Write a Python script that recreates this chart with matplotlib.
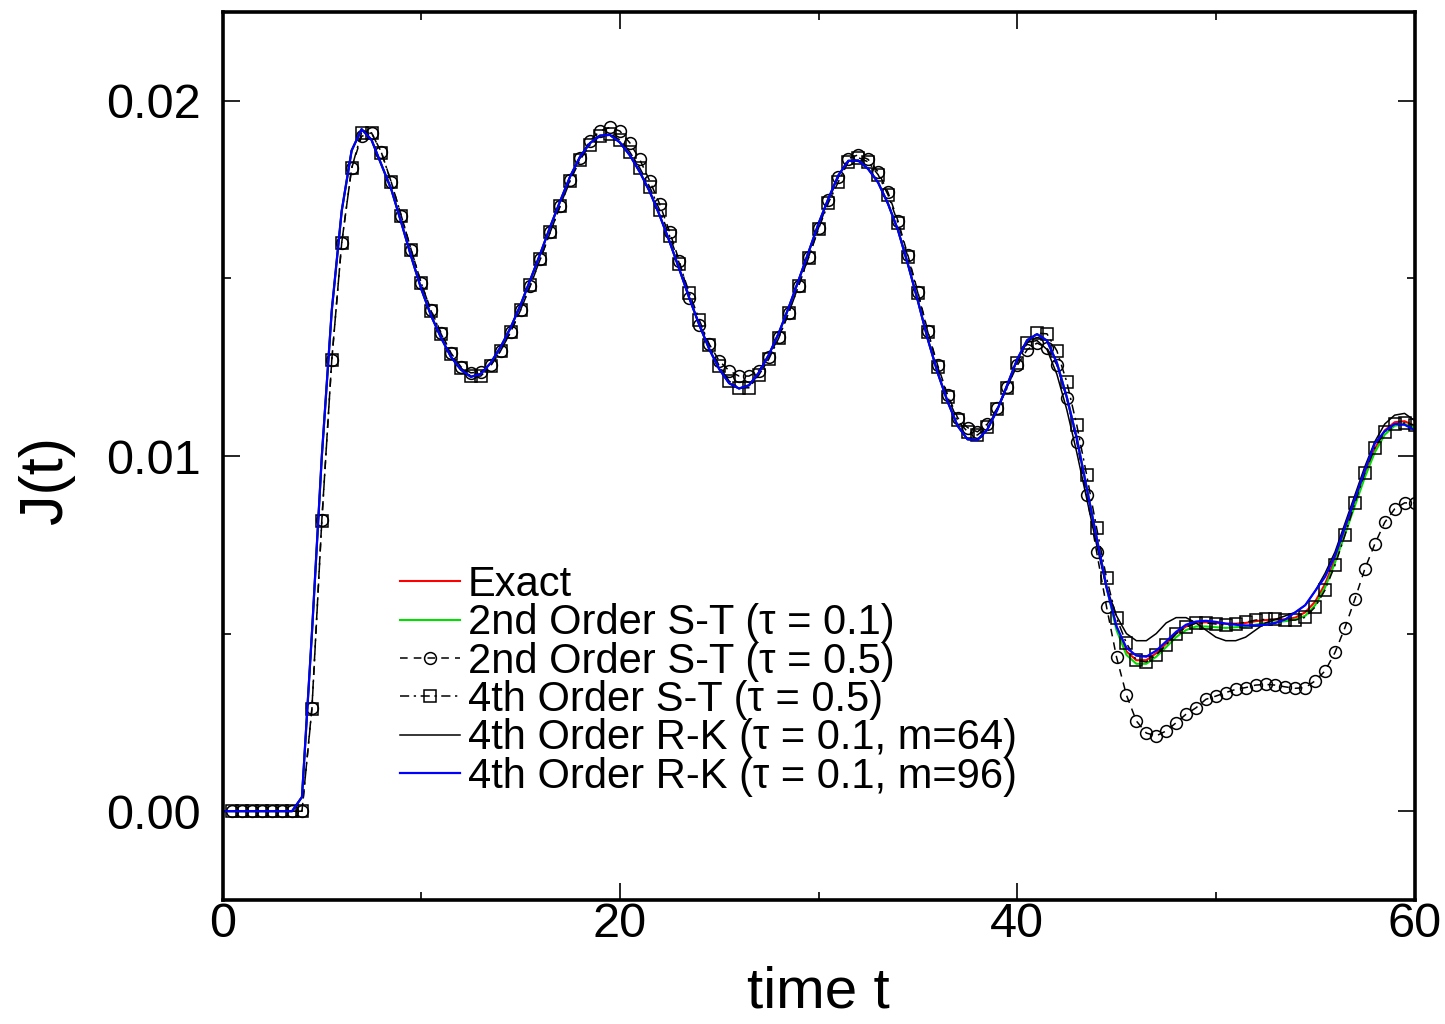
import numpy as np
import matplotlib
matplotlib.use("Agg")
import matplotlib.pyplot as plt
from matplotlib.ticker import MultipleLocator, FormatStrFormatter

plt.rcParams['font.family'] = ['Liberation Sans', 'DejaVu Sans']

# time grids: smooth curves sampled every 0.5 from t=0, marker series from t=0.5
t_line = np.arange(0.0, 60.01, 0.5)
t_mark = np.arange(0.5, 60.01, 0.5)

# RK m=96 (blue)
J_rk96 = [
    0, 0, 0, 0, 0, 0, 0, 0, 0.0004, 0.0050,
    0.0100, 0.0141, 0.0169, 0.0186, 0.0192, 0.0189, 0.0182, 0.0175, 0.01657, 0.01561,
    0.01471, 0.01395, 0.01333, 0.01279, 0.01243, 0.01223, 0.01231, 0.01262, 0.01307, 0.01361,
    0.01425, 0.01497, 0.0157, 0.01646, 0.01718, 0.01787, 0.01843, 0.01881, 0.01902, 0.01904,
    0.01883, 0.01847, 0.018, 0.01745, 0.01678, 0.01604, 0.01525, 0.01444, 0.01369, 0.01301,
    0.01245, 0.01205, 0.0119, 0.01199, 0.01235, 0.01285, 0.01346, 0.01418, 0.01495, 0.01574,
    0.01654, 0.01725, 0.0179, 0.01831, 0.01832, 0.01808, 0.0177, 0.0171, 0.01636, 0.0154,
    0.01437, 0.01329, 0.01234, 0.01153, 0.01085, 0.01047, 0.01045, 0.01075, 0.0113, 0.012,
    0.01272, 0.01326, 0.01343, 0.01325, 0.01262, 0.01165, 0.0105, 0.0091, 0.0077, 0.0063,
    0.0052, 0.0046, 0.00438, 0.00435, 0.00452, 0.00478, 0.00505, 0.00525, 0.00534, 0.00536,
    0.00533, 0.00528, 0.00525, 0.00523, 0.00523, 0.00525, 0.0053, 0.0054, 0.0056, 0.0058,
    0.0062, 0.0066, 0.0072, 0.0080, 0.0088, 0.0096, 0.01035, 0.0107, 0.0109, 0.01088,
    0.01073,
]

# exact (red)
J_exact = [
    0, 0, 0, 0, 0, 0, 0, 0, 0.0004, 0.0050,
    0.0100, 0.0141, 0.0169, 0.0186, 0.0192, 0.0189, 0.0182, 0.0175, 0.01657, 0.01561,
    0.01471, 0.01395, 0.01333, 0.01279, 0.01243, 0.01223, 0.01231, 0.01262, 0.01307, 0.01361,
    0.01425, 0.01497, 0.0157, 0.01646, 0.01718, 0.01787, 0.01843, 0.01881, 0.01902, 0.01904,
    0.01883, 0.01847, 0.018, 0.01745, 0.01678, 0.01604, 0.01525, 0.01444, 0.01369, 0.01301,
    0.01245, 0.01205, 0.0119, 0.01199, 0.01235, 0.01285, 0.01346, 0.01418, 0.01495, 0.01574,
    0.01654, 0.01725, 0.0179, 0.01831, 0.01832, 0.01808, 0.0177, 0.0171, 0.01636, 0.0154,
    0.01437, 0.01329, 0.01234, 0.01153, 0.01085, 0.01047, 0.01045, 0.01075, 0.0113, 0.012,
    0.01272, 0.01326, 0.01343, 0.01325, 0.01262, 0.01165, 0.0105, 0.0091, 0.0077, 0.0063,
    0.0052, 0.0045, 0.00425, 0.00425, 0.00445, 0.00472, 0.005, 0.0052, 0.0053, 0.00532,
    0.0053, 0.00528, 0.00528, 0.0053, 0.00535, 0.00538, 0.0054, 0.0054, 0.00545, 0.0056,
    0.0059, 0.0064, 0.0071, 0.0079, 0.0087, 0.0095, 0.0102, 0.01072, 0.01095, 0.01098,
    0.01085,
]

# 2nd order S-T, tau = 0.1 (green)
J_st2_01 = [
    0, 0, 0, 0, 0, 0, 0, 0, 0.0004, 0.0050,
    0.0100, 0.0141, 0.0169, 0.0186, 0.0192, 0.0189, 0.0182, 0.0175, 0.01657, 0.01561,
    0.01471, 0.01395, 0.01333, 0.01279, 0.01243, 0.01223, 0.01231, 0.01262, 0.01307, 0.01361,
    0.01425, 0.01497, 0.0157, 0.01646, 0.01718, 0.01787, 0.01843, 0.01881, 0.01902, 0.01904,
    0.01883, 0.01847, 0.018, 0.01745, 0.01678, 0.01604, 0.01525, 0.01444, 0.01369, 0.01301,
    0.01245, 0.01205, 0.0119, 0.01199, 0.01235, 0.01285, 0.01346, 0.01418, 0.01495, 0.01574,
    0.01654, 0.01725, 0.0179, 0.01831, 0.01832, 0.01808, 0.0177, 0.0171, 0.01636, 0.0154,
    0.01437, 0.01329, 0.01234, 0.01153, 0.01085, 0.01047, 0.01045, 0.01075, 0.0113, 0.012,
    0.01272, 0.01326, 0.01343, 0.01325, 0.01262, 0.01165, 0.0105, 0.0091, 0.0077, 0.0063,
    0.0051, 0.0044, 0.00415, 0.00415, 0.00435, 0.00462, 0.0049, 0.0051, 0.0052, 0.0052,
    0.00518, 0.00516, 0.00518, 0.0052, 0.00525, 0.0053, 0.00532, 0.00535, 0.0054, 0.0055,
    0.0058, 0.0063, 0.0070, 0.0078, 0.0086, 0.0094, 0.0101, 0.0106, 0.01085, 0.0109,
    0.0108,
]

# RK m=64 (thin black)
J_rk64 = [
    0, 0, 0, 0, 0, 0, 0, 0, 0.0004, 0.0050,
    0.0100, 0.0141, 0.0169, 0.0186, 0.0192, 0.0189, 0.0182, 0.0175, 0.01657, 0.01561,
    0.01471, 0.01395, 0.01333, 0.01279, 0.01243, 0.01223, 0.01231, 0.01262, 0.01307, 0.01361,
    0.01425, 0.01497, 0.0157, 0.01646, 0.01718, 0.01787, 0.01843, 0.01881, 0.01902, 0.01904,
    0.01883, 0.01847, 0.018, 0.01745, 0.01678, 0.01604, 0.01525, 0.01444, 0.01369, 0.01301,
    0.01245, 0.01205, 0.0119, 0.01199, 0.01235, 0.01285, 0.01346, 0.01418, 0.01495, 0.01574,
    0.01654, 0.01725, 0.0179, 0.01831, 0.01832, 0.01808, 0.0177, 0.0171, 0.01636, 0.0154,
    0.01437, 0.01329, 0.01234, 0.01153, 0.01085, 0.01047, 0.01045, 0.01075, 0.0113, 0.012,
    0.01272, 0.0132, 0.01325, 0.0130, 0.0123, 0.0113, 0.0101, 0.0088, 0.0075, 0.0063,
    0.0055, 0.0050, 0.0048, 0.0048, 0.0050, 0.0053, 0.00545, 0.00545, 0.0053, 0.0051,
    0.0049, 0.0048, 0.0048, 0.0049, 0.0051, 0.0053, 0.0054, 0.0055, 0.0056, 0.0058,
    0.0062, 0.0067, 0.0073, 0.0081, 0.0089, 0.0097, 0.0104, 0.0109, 0.01115, 0.0112,
    0.0110,
]

# 2nd order S-T, tau = 0.5 (circles)
J_st2_05 = [
    0, 0, 0, 0, 0, 0, 0, 0, 0.0029, 0.0082,
    0.0127, 0.0160, 0.0181, 0.0190, 0.0191, 0.01855, 0.0177, 0.01676, 0.0158, 0.01487,
    0.0141, 0.01347, 0.0129, 0.01251, 0.01234, 0.01237, 0.01256, 0.01296, 0.01349, 0.0141,
    0.0148, 0.01555, 0.0163, 0.01705, 0.01778, 0.0184, 0.01888, 0.01915, 0.01925, 0.01915,
    0.01882, 0.01835, 0.01775, 0.0171, 0.01632, 0.01548, 0.01445, 0.0137, 0.01315, 0.01268,
    0.0124, 0.01225, 0.01225, 0.0124, 0.0128, 0.01335, 0.01403, 0.0148, 0.0156, 0.01642,
    0.0172, 0.01785, 0.01837, 0.01848, 0.01835, 0.018, 0.01742, 0.01662, 0.01565, 0.01462,
    0.01352, 0.01255, 0.01172, 0.01108, 0.0108, 0.01068, 0.0109, 0.01135, 0.01195, 0.01255,
    0.01299, 0.01318, 0.01304, 0.01256, 0.01163, 0.0104, 0.0089, 0.0073, 0.00575, 0.00434,
    0.00327, 0.00254, 0.0022, 0.00212, 0.00226, 0.00249, 0.00273, 0.00291, 0.00315, 0.00324,
    0.00334, 0.00343, 0.00348, 0.00355, 0.00357, 0.00355, 0.0035, 0.00346, 0.00348, 0.00367,
    0.00395, 0.00447, 0.00517, 0.00597, 0.00682, 0.00752, 0.00813, 0.00851, 0.00868, 0.00868,
]

# 4th order S-T, tau = 0.5 (squares)
J_st4_05 = [
    0, 0, 0, 0, 0, 0, 0, 0, 0.00287, 0.00817,
    0.0127, 0.0160, 0.0181, 0.0191, 0.0191, 0.01854, 0.0177, 0.01676, 0.0158, 0.01487,
    0.01408, 0.01344, 0.01287, 0.01248, 0.01225, 0.01225, 0.01254, 0.01296, 0.01349, 0.01411,
    0.01482, 0.01555, 0.01631, 0.01704, 0.01775, 0.01834, 0.01876, 0.01901, 0.01907, 0.0189,
    0.01856, 0.01811, 0.01758, 0.01693, 0.0162, 0.01541, 0.01459, 0.01383, 0.01313, 0.01254,
    0.01211, 0.01192, 0.01192, 0.01228, 0.01273, 0.01332, 0.01403, 0.01479, 0.01558, 0.01639,
    0.01713, 0.01772, 0.01828, 0.0184, 0.01828, 0.01792, 0.01735, 0.01656, 0.0156, 0.01459,
    0.01349, 0.01251, 0.01166, 0.01101, 0.01068, 0.01059, 0.01082, 0.01132, 0.01192, 0.01262,
    0.01318, 0.01346, 0.01344, 0.01296, 0.01208, 0.01087, 0.00946, 0.00797, 0.00656, 0.00544,
    0.00473, 0.00425, 0.0042, 0.0044, 0.00468, 0.005, 0.00518, 0.0053, 0.0053, 0.00527,
    0.00524, 0.00527, 0.00532, 0.00538, 0.0054, 0.0054, 0.00538, 0.00538, 0.00546, 0.00575,
    0.00623, 0.00693, 0.00777, 0.00868, 0.00952, 0.01023, 0.01068, 0.0109, 0.01093, 0.01087,
]

labels = ['Exact',
          '2nd Order S-T (\u03c4 = 0.1)',
          '2nd Order S-T (\u03c4 = 0.5)',
          '4th Order S-T (\u03c4 = 0.5)',
          '4th Order R-K (\u03c4 = 0.1, m=64)',
          '4th Order R-K (\u03c4 = 0.1, m=96)']

fig = plt.figure(figsize=(14.45, 10.24), dpi=100)
ax = fig.add_axes([222.5 / 1445, 1 - 900 / 1024, 1192 / 1445, 888 / 1024])

ax.plot(t_line, J_exact, color='#ff0000', lw=1.5, label=labels[0])
ax.plot(t_line, J_st2_01, color='#00e000', lw=1.5, label=labels[1])
ax.plot(t_mark, J_st2_05, color='black', lw=1.1, ls=(0, (5, 4)),
        marker='o', ms=8.5, mfc='none', mec='black', mew=1.1, label=labels[2])
ax.plot(t_mark, J_st4_05, color='black', lw=1.1, ls=(0, (6, 3, 1.5, 3)),
        marker='s', ms=8.5, mfc='none', mec='black', mew=1.1, label=labels[3])
ax.plot(t_line, J_rk64, color='black', lw=1.1, label=labels[4])
ax.plot(t_line, J_rk96, color='#0000ff', lw=1.6, label=labels[5])

ax.set_xlim(0, 60)
ax.set_ylim(-0.0025, 0.0225)
ax.xaxis.set_major_locator(MultipleLocator(20))
ax.xaxis.set_minor_locator(MultipleLocator(10))
ax.yaxis.set_major_locator(MultipleLocator(0.01))
ax.yaxis.set_minor_locator(MultipleLocator(0.005))
ax.yaxis.set_major_formatter(FormatStrFormatter('%.2f'))

ax.tick_params(which='both', direction='in', top=True, right=True, width=1.2)
ax.tick_params(which='major', length=12, labelsize=35)
ax.tick_params(which='minor', length=6)
ax.tick_params(axis='x', which='major', pad=1.5)
ax.tick_params(axis='y', which='major', pad=15.5)
for s in ax.spines.values():
    s.set_linewidth(2.6)

ax.set_xlabel('time t', fontsize=42, labelpad=13)
ax.set_ylabel('J(t)', fontsize=44)
ax.yaxis.set_label_coords(-0.124, 0.473)

ax.legend(loc='upper left', bbox_to_anchor=(400 / 1445, 1 - 565 / 1024),
          bbox_transform=fig.transFigure, frameon=False, fontsize=30,
          handlelength=1.45, handletextpad=0.17, labelspacing=-0.04,
          borderpad=0, borderaxespad=0, numpoints=1)

fig.savefig('out.png', dpi=100)
